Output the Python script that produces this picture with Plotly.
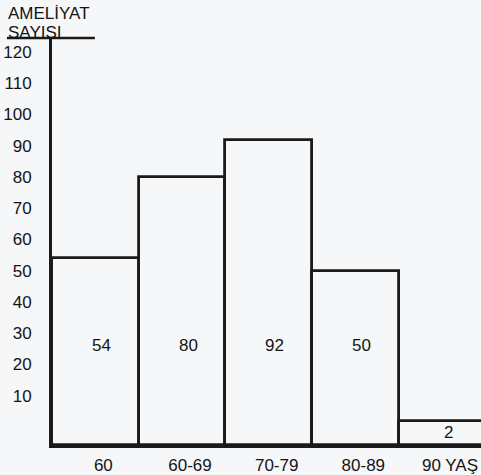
import plotly.graph_objects as go

# ---- data ----
categories = ["60", "60-69", "70-79", "80-89", "90 YAŞ"]
operations = [54, 80, 92, 50, 2]
y_ticks = [10, 20, 30, 40, 50, 60, 70, 80, 90, 100, 110, 120]
y_title_line1 = "AMELİYAT"
y_title_line2 = "SAYISI"

# ---- style ----
Y_MIN, Y_MAX = -5.8, 124.5
LINE = "#1a1a1a"
TEXT = "#141414"
BG = "#f6f7f9"
FONT = "Liberation Sans, Arial, sans-serif"
FS = 17

xs = list(range(len(categories)))

fig = go.Figure()
fig.add_trace(go.Bar(
    x=xs,
    y=[v - Y_MIN for v in operations],
    base=Y_MIN,
    width=1.0,
    marker=dict(color="rgba(0,0,0,0)", line=dict(color=LINE, width=2.8)),
    hovertext=[f"{c}: {v}" for c, v in zip(categories, operations)],
    hoverinfo="text",
    showlegend=False,
))

# value labels inside bars
for i, v in enumerate(operations):
    ylab = 26 if v > 30 else (v + Y_MIN) / 2
    fig.add_annotation(x=i, y=ylab, text=str(v), showarrow=False, xshift=6,
                       font=dict(size=FS, color=TEXT, family=FONT))

# y-axis title (two lines, second underlined by a rule)
fig.add_annotation(xref="paper", yref="paper", x=-0.108, y=1.0, yshift=13,
                   xanchor="left", yanchor="bottom", text=y_title_line1,
                   showarrow=False, font=dict(size=FS, color=TEXT, family=FONT))
fig.add_annotation(xref="paper", yref="paper", x=-0.108, y=1.0, yshift=-6,
                   xanchor="left", yanchor="bottom", text=y_title_line2,
                   showarrow=False, font=dict(size=FS, color=TEXT, family=FONT))
fig.add_shape(type="line", xref="paper", yref="paper",
              x0=-0.105, x1=0.1, y0=1.0, y1=1.0,
              line=dict(color=LINE, width=2.6))

fig.update_layout(
    width=481, height=475,
    margin=dict(l=52, r=0, t=38, b=30, autoexpand=False),
    paper_bgcolor=BG, plot_bgcolor=BG,
    bargap=0,
    font=dict(family=FONT, size=FS, color=TEXT),
    xaxis=dict(
        range=[-0.5, 4.45],
        tickmode="array", tickvals=xs, ticktext=categories,
        showgrid=False, zeroline=False,
        showline=True, linecolor=LINE, linewidth=2.8,
        ticks="", tickfont=dict(size=FS, color=TEXT, family=FONT),
        ticklabelstandoff=3, ticklabelshift=8, automargin=False,
    ),
    yaxis=dict(
        range=[Y_MIN, Y_MAX],
        tickmode="array", tickvals=y_ticks,
        showgrid=False, zeroline=False,
        showline=True, linecolor=LINE, linewidth=2.8,
        ticks="", tickfont=dict(size=FS, color=TEXT, family=FONT),
        ticklabelstandoff=14, automargin=False,
    ),
)

fig.write_html("out.html", config={"displayModeBar": False},
               post_script="document.body.style.margin='0';")
